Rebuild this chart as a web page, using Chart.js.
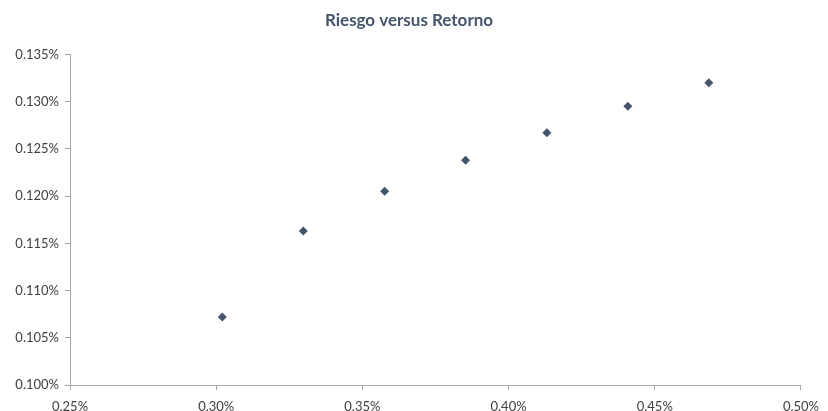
<!DOCTYPE html>
<html>
<head>
<meta charset="utf-8">
<script src="https://cdn.jsdelivr.net/npm/chart.js@4/dist/chart.umd.min.js"></script>
<style>
  html, body { margin: 0; padding: 0; background: #fff; overflow: hidden; }
</style>
</head>
<body>
<canvas id="riskChart" width="828" height="411"></canvas>
<script>
// Riesgo (x) y Retorno (y), en %
const riesgo = [0.3021, 0.3298, 0.3576, 0.3853, 0.4131, 0.4408, 0.4685];
const retorno = [0.1072, 0.1163, 0.1205, 0.1238, 0.1267, 0.1295, 0.1320];

const xMin = 0.25, xMax = 0.50, xStep = 0.05;
const yMin = 0.100, yMax = 0.135, yStep = 0.005;

const points = riesgo.map((r, i) => ({ x: r, y: retorno[i] }));

const ctx = document.getElementById('riskChart').getContext('2d');
new Chart(ctx, {
  type: 'scatter',
  data: {
    datasets: [{
      label: 'Riesgo versus Retorno',
      data: points,
      pointStyle: 'rectRot',
      pointRadius: 4.5,
      backgroundColor: '#44546A',
      borderColor: '#44546A',
      borderWidth: 0
    }]
  },
  options: {
    responsive: false,
    animation: false,
    layout: { padding: { left: 0, right: 10, top: 4, bottom: 0 } },
    plugins: {
      legend: { display: false },
      tooltip: { enabled: false },
      title: {
        display: true,
        text: 'Riesgo versus Retorno',
        color: '#44546A',
        font: { size: 17, weight: 'bold', family: "Lato, 'Open Sans', sans-serif" },
        padding: { top: 6, bottom: 24 }
      }
    },
    scales: {
      x: {
        type: 'linear',
        min: xMin,
        max: xMax,
        afterFit: s => { s.height = 26; },
        grid: { display: true, drawOnChartArea: false, drawTicks: true, tickLength: 5, color: '#A6A6A6' },
        border: { display: true, color: '#A6A6A6' },
        ticks: {
          stepSize: xStep,
          color: '#404040',
          font: { size: 13, family: "Lato, 'Open Sans', sans-serif" },
          padding: 9,
          callback: v => v.toFixed(2) + '%'
        }
      },
      y: {
        type: 'linear',
        min: yMin,
        max: yMax,
        afterFit: s => { s.width = 70; },
        grid: { display: true, drawOnChartArea: false, drawTicks: true, tickLength: 5, color: '#A6A6A6' },
        border: { display: true, color: '#A6A6A6' },
        ticks: {
          stepSize: yStep,
          color: '#404040',
          font: { size: 13, family: "Lato, 'Open Sans', sans-serif" },
          padding: 6,
          callback: v => v.toFixed(3) + '%'
        }
      }
    }
  }
});
</script>
</body>
</html>
